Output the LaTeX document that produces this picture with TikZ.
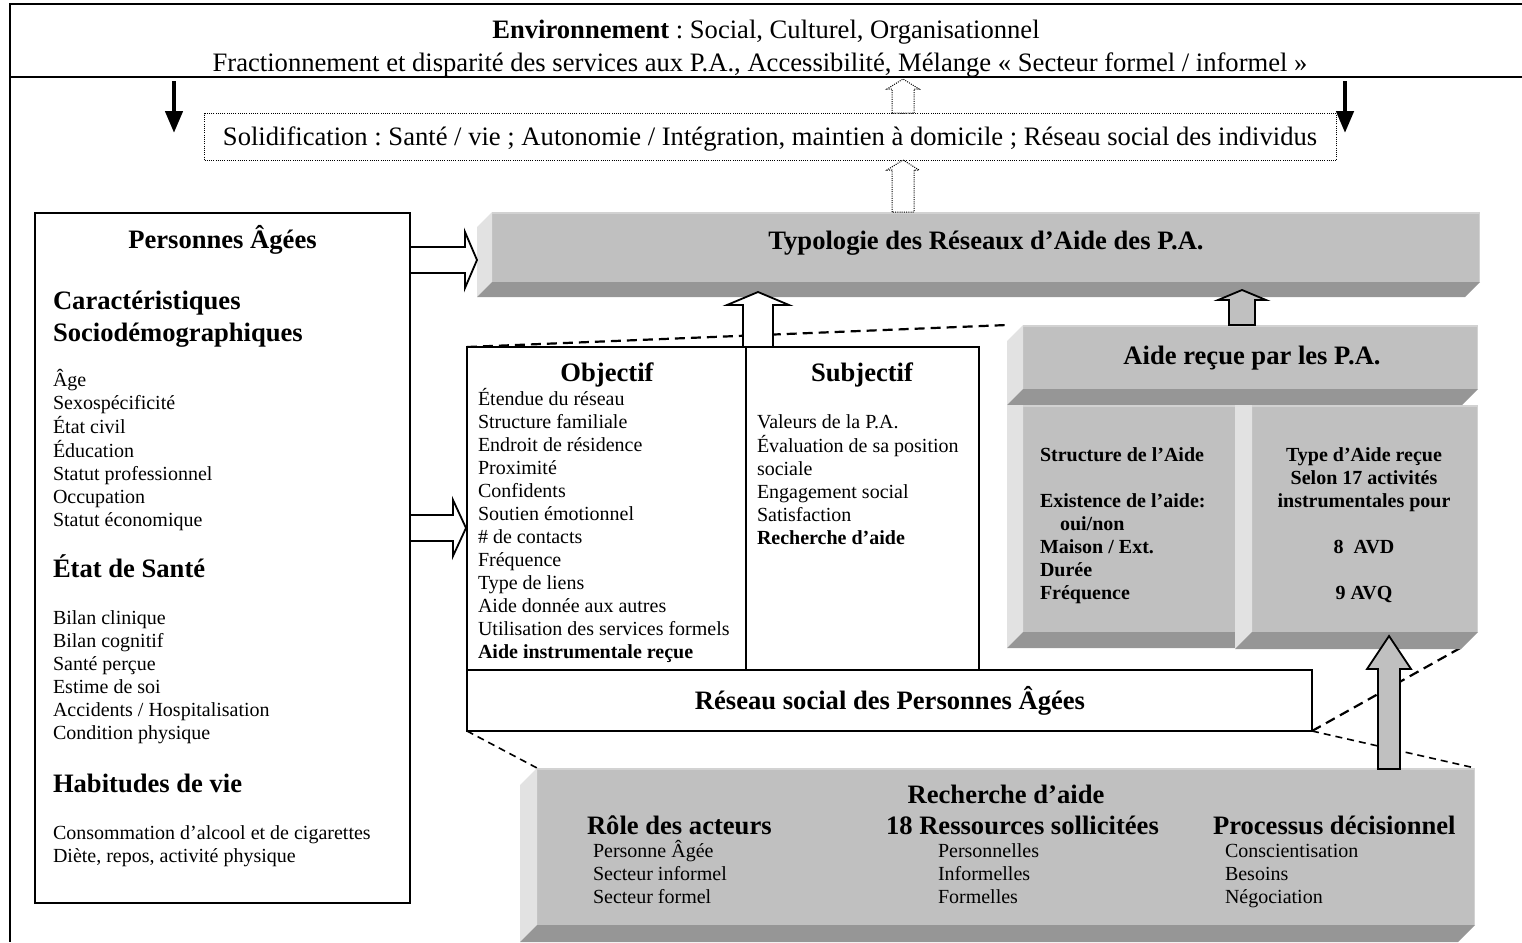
\documentclass[tikz,border=0pt]{standalone}
\usepackage{fontspec}
\setmainfont{Liberation Serif}
\usetikzlibrary{arrows.meta,calc}
\frenchspacing
\definecolor{bfront}{HTML}{C0C0C0}
\definecolor{blight}{HTML}{E2E2E2}
\definecolor{bdark}{HTML}{969696}
\definecolor{bedge}{HTML}{D2D2D2}
\newcommand\fL{\fontsize{20}{23}\selectfont}
\newcommand\fT{\fontsize{26.6}{32}\selectfont}
\newcommand\fS{\fontsize{20}{23}\selectfont\bfseries}
\newcommand\lines[1]{\begin{tabular}[t]{@{}l@{}}#1\end{tabular}}
\newcommand\clines[1]{\begin{tabular}[t]{@{}c@{}}#1\end{tabular}}
% side faces of a 3-D box: #1 front node, #2 depth, #3 drop of the left face top
\newcommand\bevfaces[3]{%
  \fill[blight] (#1.north west) -- ++(-#2,#3) -- ([xshift=-#2pt,yshift=-#2pt]#1.south west) -- (#1.south west) -- cycle;
  \fill[bdark] (#1.south west) -- ([xshift=-#2pt,yshift=-#2pt]#1.south west) -- ([xshift=-#2pt,yshift=-#2pt]#1.south east) -- (#1.south east) -- cycle;
  \draw[bedge,line width=1.5pt] ([yshift=-0.75pt]#1.north west) -- ([xshift=-0.75pt,yshift=-0.75pt]#1.north east) -- ([xshift=-0.75pt]#1.south east);}
% upward block arrow: #1 style, #2 base, #3 tip, #4 shaft half width, #5 head half width, #6 head length
\newcommand\uparr[6]{%
  \draw[#1] let \p1=(#2), \p2=(#3) in
    (\x2-#4pt,\y1) -- (\x2-#4pt,\y2-#6pt) -- (\x2-#5pt,\y2-#6pt) -- (\x2,\y2)
    -- (\x2+#5pt,\y2-#6pt) -- (\x2+#4pt,\y2-#6pt) -- (\x2+#4pt,\y1) -- cycle;}
% rightward block arrow
\newcommand\rtarr[6]{%
  \draw[#1] let \p1=(#2), \p2=(#3) in
    (\x1,\y2+#4pt) -- (\x2-#6pt,\y2+#4pt) -- (\x2-#6pt,\y2+#5pt) -- (\x2,\y2)
    -- (\x2-#6pt,\y2-#5pt) -- (\x2-#6pt,\y2-#4pt) -- (\x1,\y2-#4pt) -- cycle;}
\tikzset{
  frame/.style={line width=2.2pt},
  front/.style={fill=bfront,inner sep=0pt,outer sep=0pt,anchor=north west},
  box/.style={draw,line width=2pt,fill=white,inner sep=0pt,outer sep=0pt,anchor=north west},
  dotbox/.style={draw,line width=1pt,dash pattern=on 1pt off 1.2pt,fill=white,inner sep=0pt},
  txt/.style={inner sep=0pt,outer sep=0pt},
  blkarrow/.style={line width=4.5pt,-{Triangle[length=22pt,width=17pt]}},
  harrow/.style={draw,line width=1.8pt,fill=white,line join=miter},
  garrow/.style={draw,line width=1.8pt,fill=bfront,line join=miter},
  dotarrow/.style={draw,line width=1pt,dash pattern=on 1pt off 1.2pt,fill=white},
  dashA/.style={line width=2.2pt,dash pattern=on 10pt off 6pt},
  dashB/.style={line width=1.6pt,dash pattern=on 7pt off 5pt},
}
\begin{document}
\begin{tikzpicture}[x=1pt,y=-1pt]
\useasboundingbox (0,0) rectangle (1522,942);
% ---- frame
\coordinate (fTL) at (10,4);
\coordinate (fTR) at (1522,4);
\coordinate (fBL) at (10,942);
\coordinate (sL) at (10,77);
\coordinate (sR) at (1522,77);
\draw[frame] (fTR) -- (fTL) -- (fBL);
\draw[frame] (sL) -- (sR);
% ---- environment
\node[txt,anchor=base] (env1) at (766,39) {\fT\textbf{Environnement} : Social, Culturel, Organisationnel};
\node[txt,anchor=base] (env2) at (760,71) {\fT Fractionnement et disparité des services aux P.A., Accessibilité, Mélange « Secteur formel / informel »};
% ---- black arrows
\coordinate (k1s) at (174,81); \coordinate (k1e) at (174,133);
\coordinate (k2s) at (1345,81); \coordinate (k2e) at (1345,133);
\draw[blkarrow] (k1s) -- (k1e);
\draw[blkarrow] (k2s) -- (k2e);
% ---- solidification
\node[dotbox,minimum width=1132pt,minimum height=47pt,anchor=north west] (sol) at (204,113) {};
\node[txt,anchor=base] (solt) at (770,145) {\fT Solidification : Santé / vie ; Autonomie / Intégration, maintien à domicile ; Réseau social des individus};
% ---- Personnes Agees box
\node[box,minimum width=375pt,minimum height=690pt] (pa) at (35,213) {};
\node[txt,anchor=base] (pat) at (222.5,248) {\fT\bfseries Personnes Âgées};
\node[txt,anchor=base west] (car) at (53,309) {\fT\bfseries\lines{Caractéristiques\\Sociodémographiques}};
\node[txt,anchor=base west] (carl) at (53,386) {\fL\lines{Âge\\Sexospécificité\\État civil\\Éducation\\Statut professionnel\\Occupation\\Statut économique}};
\node[txt,anchor=base west] (san) at (53,577) {\fT\bfseries État de Santé};
\node[txt,anchor=base west] (sanl) at (53,624) {\fL\lines{Bilan clinique\\Bilan cognitif\\Santé perçue\\Estime de soi\\Accidents / Hospitalisation\\Condition physique}};
\node[txt,anchor=base west] (hab) at (53,792) {\fT\bfseries Habitudes de vie};
\node[txt,anchor=base west] (habl) at (53,839) {\fL\lines{Consommation d’alcool et de cigarettes\\Diète, repos, activité physique}};
% ---- dashed zoom lines (behind everything else)
\coordinate (aNW) at (1007,325);
\coordinate (aSE) at (1462,647);
\draw[dashA] (467,347) coordinate (oNW) -- (aNW);
\draw[dashA] (1312,731) coordinate (rSE) -- (aSE);
\draw[dashB] (467,731) coordinate (rSW) -- (537,768) coordinate (hNW);
\draw[dashB] (rSE) -- (1475,768) coordinate (hNE);
% ---- Typologie
\node[front,minimum width=988pt,minimum height=70pt] (typo) at (492,212) {};
\bevfaces{typo}{15}{15}
\node[txt,anchor=base] (typot) at (986,249) {\fT\bfseries Typologie des Réseaux d’Aide des P.A.};
% ---- Aide recue
\node[front,minimum width=455pt,minimum height=64pt] (aide) at (1023,325) {};
\bevfaces{aide}{16}{16}
\node[txt,anchor=base] (aidet) at (1252,364) {\fT\bfseries Aide reçue par les P.A.};
\node[front,minimum width=229pt,minimum height=227pt] (aideL) at (1023,405) {};
\bevfaces{aideL}{16}{0}
\node[front,minimum width=226pt,minimum height=227pt] (aideR) at (1252,405) {};
\bevfaces{aideR}{17}{0}
\node[txt,anchor=base west] (aidel) at (1040,461) {\fS\lines{Structure de l’Aide\\ \\Existence de l’aide:\\\hspace{20pt}oui/non\\Maison / Ext.\\Durée\\Fréquence}};
\node[txt,anchor=base] (aider) at (1364,461) {\fS\clines{Type d’Aide reçue\\Selon 17 activités\\instrumentales pour\\ \\8\ \ AVD\\ \\9 AVQ}};
% ---- table
\node[box,minimum width=279pt,minimum height=323pt] (obj) at (467,347) {};
\node[box,minimum width=233pt,minimum height=323pt] (subj) at (746,347) {};
\node[box,minimum width=845pt,minimum height=61pt] (res) at (467,670) {};
\node[txt,anchor=base] (objt) at (607,381) {\fT\bfseries Objectif};
\node[txt,anchor=base] (subt) at (862,381) {\fT\bfseries Subjectif};
\node[txt,anchor=base west] (objl) at (478,405) {\fL\lines{Étendue du réseau\\Structure familiale\\Endroit de résidence\\Proximité\\Confidents\\Soutien émotionnel\\\# de contacts\\Fréquence\\Type de liens\\Aide donnée aux autres\\Utilisation des services formels\\\textbf{Aide instrumentale reçue}}};
\node[txt,anchor=base west] (subl) at (757,428) {\fL\lines{Valeurs de la P.A.\\Évaluation de sa position\\sociale\\Engagement social\\Satisfaction\\\textbf{Recherche d’aide}}};
\node[txt,anchor=base] (rest) at (890,709) {\fT\bfseries Réseau social des Personnes Âgées};
% ---- Recherche
\node[front,minimum width=938pt,minimum height=157pt] (rech) at (537,768) {};
\bevfaces{rech}{17}{17}
\node[txt,anchor=base] (recht) at (1006,803) {\fT\bfseries Recherche d’aide};
\node[txt,anchor=base west] (r1t) at (587,834) {\fT\bfseries Rôle des acteurs};
\node[txt,anchor=base west] (r2t) at (886,834) {\fT\bfseries 18 Ressources sollicitées};
\node[txt,anchor=base west] (r3t) at (1213,834) {\fT\bfseries Processus décisionnel};
\node[txt,anchor=base west] (r1l) at (593,857) {\fL\lines{Personne Âgée\\Secteur informel\\Secteur formel}};
\node[txt,anchor=base west] (r2l) at (938,857) {\fL\lines{Personnelles\\Informelles\\Formelles}};
\node[txt,anchor=base west] (r3l) at (1225,857) {\fL\lines{Conscientisation\\Besoins\\Négociation}};
% ---- block arrows
\coordinate (d1b) at (903,113); \coordinate (d1t) at (903,79);
\coordinate (d2b) at (903,212); \coordinate (d2t) at (903,160);
\uparr{dotarrow}{d1b}{d1t}{11}{16}{10}
\uparr{dotarrow}{d2b}{d2t}{11}{16}{10}
\coordinate (p1b) at (410,260); \coordinate (p1t) at (477,260);
\rtarr{harrow}{p1b}{p1t}{13}{28}{12}
\coordinate (p2b) at (410,528); \coordinate (p2t) at (466,528);
\rtarr{harrow}{p2b}{p2t}{13}{28}{13}
\coordinate (o1b) at (758,347); \coordinate (o1t) at (758,292);
\uparr{harrow}{o1b}{o1t}{15}{31}{13}
\coordinate (g1b) at (1242,325); \coordinate (g1t) at (1242,290);
\uparr{garrow}{g1b}{g1t}{13}{24}{10}
\coordinate (g2b) at (1389,769); \coordinate (g2t) at (1389,636);
\uparr{garrow}{g2b}{g2t}{11}{22}{33}
\end{tikzpicture}
\end{document}
